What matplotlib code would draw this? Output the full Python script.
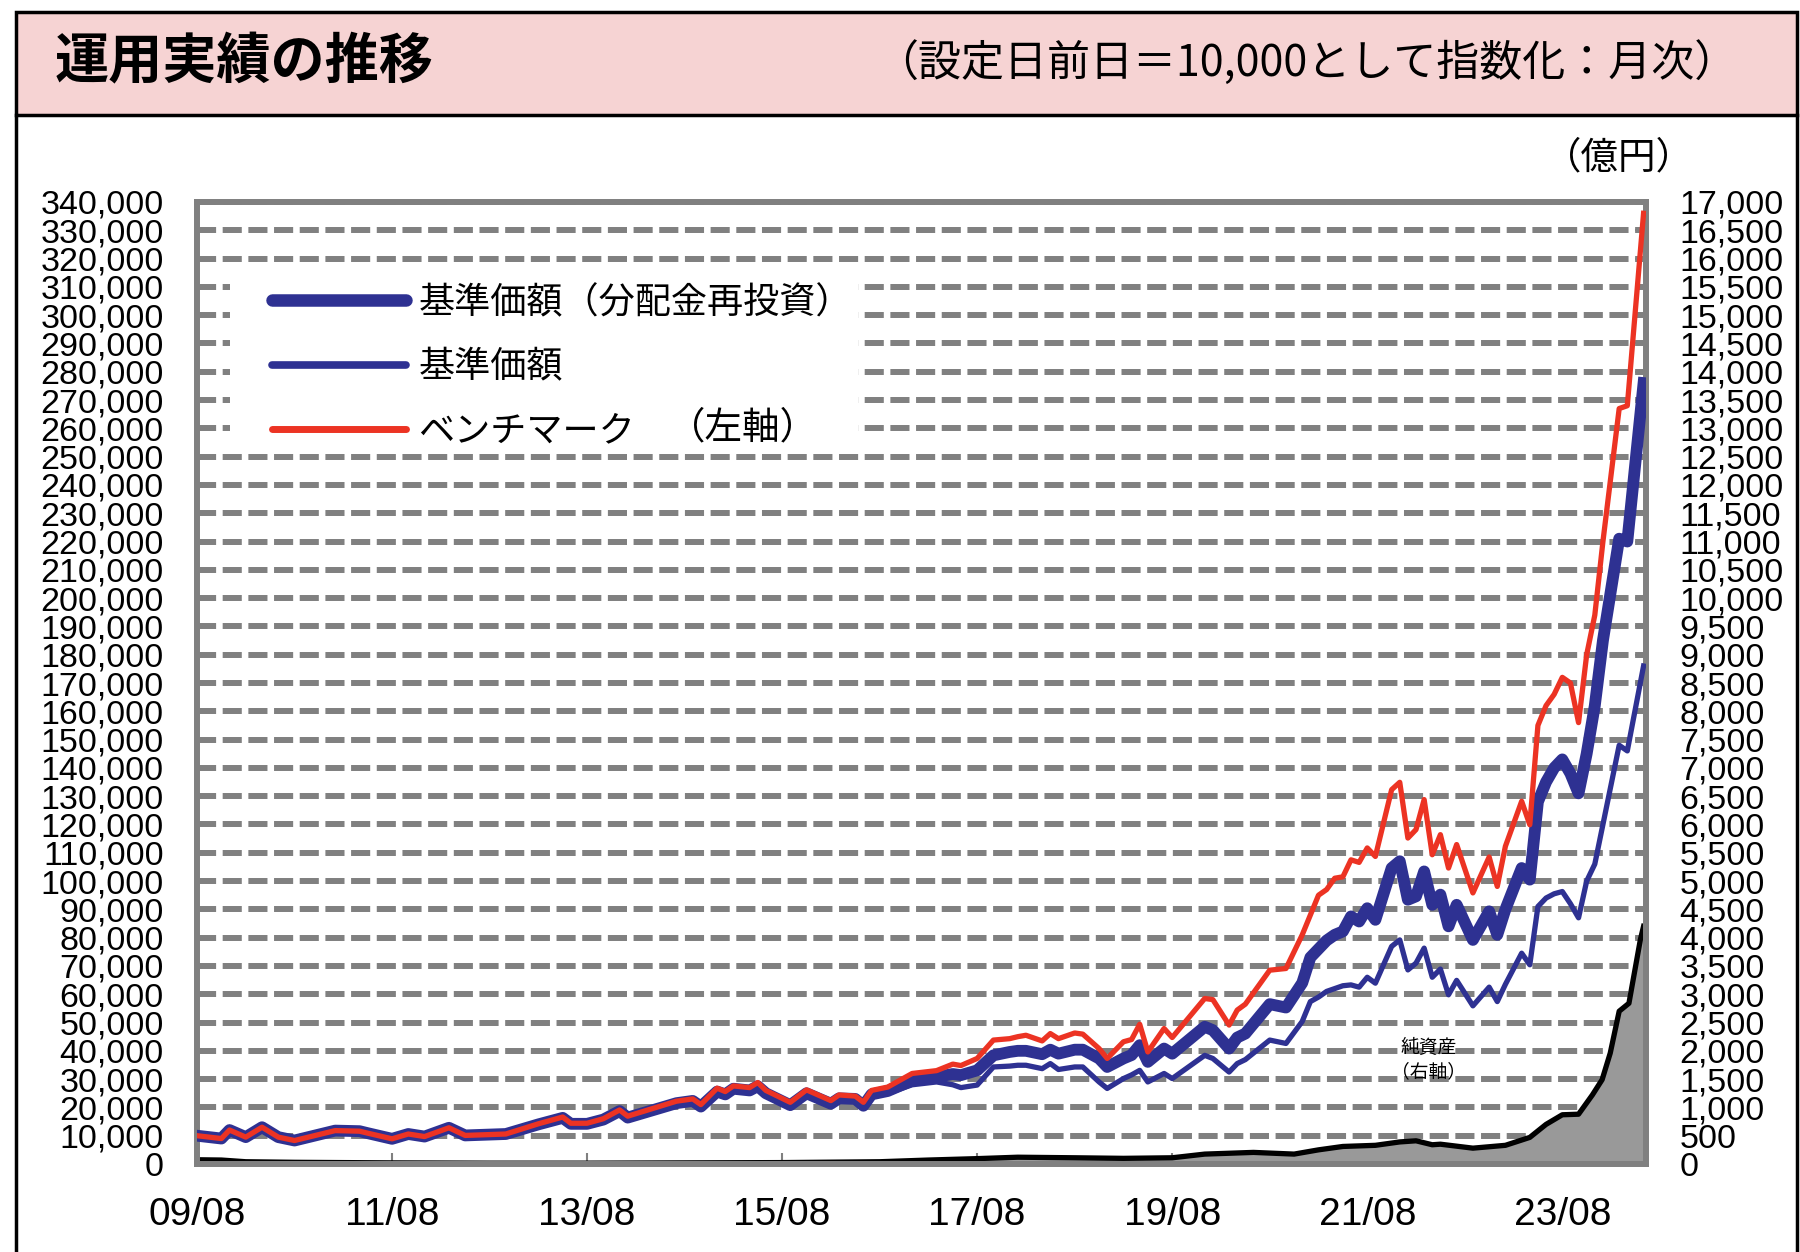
import matplotlib
matplotlib.use('Agg')
import matplotlib.pyplot as plt
from matplotlib.patches import Rectangle
from matplotlib.lines import Line2D
from matplotlib.ticker import MultipleLocator, FuncFormatter

plt.rcParams['font.family'] = ['Liberation Sans', 'Noto Sans CJK JP', 'DejaVu Sans']

# months since 2009/08
months = [0, 3, 4, 6, 8, 10, 12, 14, 17, 20,
          21, 24, 26, 28, 31, 33, 38, 42, 45, 46,
          48, 50, 52, 53, 59, 61, 62, 64, 65, 66,
          68, 69, 70, 73, 75, 78, 79, 81, 82, 83,
          85, 88, 91, 93, 94, 96, 98, 100, 101, 102,
          104, 105, 106, 108, 109, 111, 112, 114, 115, 116,
          117, 119, 120, 124, 125, 127, 128, 129, 132, 134,
          136, 137, 138, 139, 140, 141, 142, 143, 144, 145,
          147, 148, 149, 150, 151, 152, 153, 154, 155, 157,
          159, 160, 161, 163, 164, 165, 166, 167, 168, 169,
          170, 171, 172, 173, 175, 176, 178]

benchmark = [10000, 9000, 12000, 9500, 13000, 9500, 8300, 9700, 11800, 11600,
             10900, 8900, 10600, 9700, 12800, 10100, 10600, 14200, 16600, 14400,
             14400, 16000, 19100, 16900, 22200, 23000, 21000, 26800, 25600, 27600,
             27000, 28800, 26000, 21800, 26200, 22400, 24400, 24000, 21800, 26000,
             27200, 32000, 33000, 35300, 34800, 37300, 43800, 44300, 45000, 45500,
             43500, 46100, 44300, 46300, 45900, 40800, 37300, 43200, 44000, 49400,
             39600, 47900, 44700, 58500, 58100, 49100, 54400, 56500, 68500, 69100,
             81000, 88000, 95000, 97000, 101000, 101500, 107500, 106600, 111700, 108700,
             132300, 134900, 115200, 118200, 128800, 109300, 116400, 104600, 112900, 95800,
             108500, 98100, 112300, 128200, 119900, 155000, 162000, 166000, 172000, 170000,
             156000, 180000, 194000, 220000, 267000, 268000, 336000]

nav_reinvested = [10000, 9000, 12000, 9500, 13000, 9500, 8300, 9700, 11800, 11600,
                  10900, 8900, 10600, 9700, 12800, 10100, 10600, 14000, 16300, 14200,
                  14200, 15700, 18700, 16400, 21500, 22300, 20300, 25600, 24600, 26600,
                  26000, 27500, 25000, 20800, 25000, 21300, 23200, 23000, 20600, 24600,
                  25800, 29500, 30800, 31800, 31400, 33100, 38400, 39600, 40000, 40000,
                  38800, 40400, 39000, 40400, 40400, 37300, 34300, 37300, 38500, 42000,
                  36100, 40800, 39000, 48500, 47300, 40800, 44700, 46100, 56500, 55300,
                  64000, 73000, 76000, 79000, 81000, 82200, 87500, 85700, 90400, 86300,
                  104600, 107000, 93400, 94600, 103400, 91600, 95200, 84000, 91600, 79200,
                  89300, 81000, 90000, 104600, 100500, 128000, 135000, 140000, 143000, 138000,
                  131000, 145000, 162000, 185000, 221000, 220000, 276000]

nav = [10000, 9000, 12000, 9500, 13000, 9500, 8300, 9700, 11800, 11600,
       10900, 8900, 10600, 9700, 12800, 10100, 10600, 14000, 16300, 14200,
       14200, 15700, 18700, 16400, 21500, 22300, 20300, 25600, 24600, 26600,
       26000, 27500, 25000, 20800, 25000, 21300, 23200, 23000, 20600, 24300,
       25000, 28000, 29000, 28000, 27000, 27900, 34300, 34600, 34900, 34900,
       33700, 35500, 33400, 34300, 34300, 29000, 26700, 30200, 31500, 33100,
       29000, 32000, 30200, 38400, 37300, 32500, 35500, 36900, 43800, 42600,
       50400, 57400, 59000, 61000, 62000, 63000, 63300, 62500, 66000, 63900,
       76900, 79200, 68600, 71000, 76300, 66000, 68900, 59800, 64900, 55900,
       62500, 57400, 63500, 74500, 70400, 91000, 94000, 95500, 96300, 92000,
       87000, 100000, 106000, 120000, 148000, 146000, 176000]

# net assets (100 million yen), right axis
na_months = [0, 3, 6, 12, 24, 36, 48, 60, 72, 84,
             90, 96, 101, 108, 114, 120, 124, 130, 135, 138,
             141, 145, 148, 150, 152, 153, 157, 161, 164, 166,
             168, 170, 171.7, 172.9, 173.9, 175, 176.2, 177.6, 178]
net_assets = [75, 70, 40, 30, 20, 15, 15, 20, 25, 40,
              70, 95, 120, 110, 100, 110, 175, 205, 175, 250,
              310, 330, 390, 410, 340, 350, 280, 330, 470, 700,
              870, 880, 1220, 1490, 1960, 2700, 2840, 3960, 4200]

x_ticks = [0, 24, 48, 72, 96, 120, 144, 168]
x_labels = ['09/08', '11/08', '13/08', '15/08', '17/08', '19/08', '21/08', '23/08']

legend_labels = ['基準価額（分配金再投資）', '基準価額', 'ベンチマーク']

NAVY = '#2E3192'
RED = '#EC3323'
GRAY = '#808080'
JP = ['Noto Sans CJK JP']

W, H = 1800, 1252
fig = plt.figure(figsize=(18, 12.52), dpi=100)

# header band and outer frame
fig.add_artist(Rectangle((16 / W, 1 - 115 / H), (1797 - 16) / W, (115 - 12) / H,
                         transform=fig.transFigure, facecolor='#F6D3D3',
                         edgecolor='black', lw=2.5))
fig.add_artist(Line2D([16 / W, 16 / W], [0, 1 - 115 / H], transform=fig.transFigure,
                      color='black', lw=2.5))
fig.add_artist(Line2D([1797 / W, 1797 / W], [0, 1 - 115 / H], transform=fig.transFigure,
                      color='black', lw=2.5))
fig.text(55 / W, 1 - 63 / H, '運用実績の推移', fontsize=39, fontweight='bold',
         va='center', family=JP)
fig.text(1737 / W, 1 - 63 / H, '（設定日前日＝10,000として指数化：月次）', fontsize=31,
         ha='right', va='center', family=JP)

ax = fig.add_axes([197 / W, 1 - 1164 / H, (1646 - 197) / W, (1164 - 202) / H])
ax2 = ax.twinx()

# net assets on the right axis
ax.fill_between(na_months, net_assets, 0, color='#999999', lw=0, zorder=1)
ax.plot(na_months, net_assets, color='black', lw=3.8, zorder=2)
ax.set_ylim(0, 17000)
ax.set_xlim(0, 178.3)
ax.yaxis.tick_right()
ax.yaxis.set_major_locator(MultipleLocator(500))
ax.yaxis.set_major_formatter(FuncFormatter(lambda v, p: f'{int(v):,}'))
ax.set_axisbelow(True)
ax.grid(axis='y', color=GRAY, lw=4.3, linestyle=(0, (3.2, 1.1)))
ax.grid(axis='x', visible=False)
ax.set_xticks(x_ticks, x_labels)
ax.tick_params(axis='x', direction='in', length=8, width=1.5, color=GRAY,
               labelsize=28, pad=24)
ax.tick_params(axis='y', direction='in', length=8, width=1.5, color=GRAY,
               labelsize=24.5, pad=24)
for s in ax.spines.values():
    s.set_color(GRAY)
    s.set_linewidth(4.3)

# index lines on the left axis
l1, = ax2.plot(months, nav_reinvested, color=NAVY, lw=8.5, zorder=2,
               solid_joinstyle='round')
l2, = ax2.plot(months, nav, color=NAVY, lw=3.8, zorder=2, solid_joinstyle='round')
l3, = ax2.plot(months, benchmark, color=RED, lw=3.8, zorder=3, solid_joinstyle='round')
ax2.set_ylim(0, 340000)
ax2.yaxis.tick_left()
ax2.yaxis.set_major_locator(MultipleLocator(10000))
ax2.yaxis.set_major_formatter(FuncFormatter(lambda v, p: f'{int(v):,}'))
ax2.tick_params(axis='y', length=0, labelsize=24.5, pad=24)
for s in ax2.spines.values():
    s.set_visible(False)

# legend box
fig.add_artist(Rectangle((230 / W, 1 - 454 / H), (858 - 230) / W, (454 - 264) / H,
                         transform=fig.transFigure, facecolor='white',
                         edgecolor='none', zorder=3))
leg = fig.legend([l1, l2, l3], legend_labels, loc='upper left',
                 bbox_to_anchor=(272 / W, 1 - 285 / H), frameon=False,
                 borderpad=0, borderaxespad=0, handlelength=3.7,
                 handletextpad=0.35, labelspacing=0.78,
                 prop={'family': JP, 'size': 26})
leg.set_zorder(5)
for h, w in zip(leg.legend_handles, [9, 5.5, 5]):
    h.set_linewidth(w)
    h.set_solid_capstyle('round')
fig.text(668 / W, 1 - 428 / H, '（左軸）', fontsize=27, va='center',
         family=JP, zorder=6)

fig.text(1694 / W, 1 - 158 / H, '（億円）', fontsize=27, ha='right', va='center',
         family=JP)
fig.text(1429 / W, 1 - 1047 / H, '純資産', fontsize=13.5, ha='center', va='center',
         family=JP)
fig.text(1429 / W, 1 - 1072 / H, '（右軸）', fontsize=13.5, ha='center', va='center',
         family=JP)

fig.savefig('out.png', dpi=100)
